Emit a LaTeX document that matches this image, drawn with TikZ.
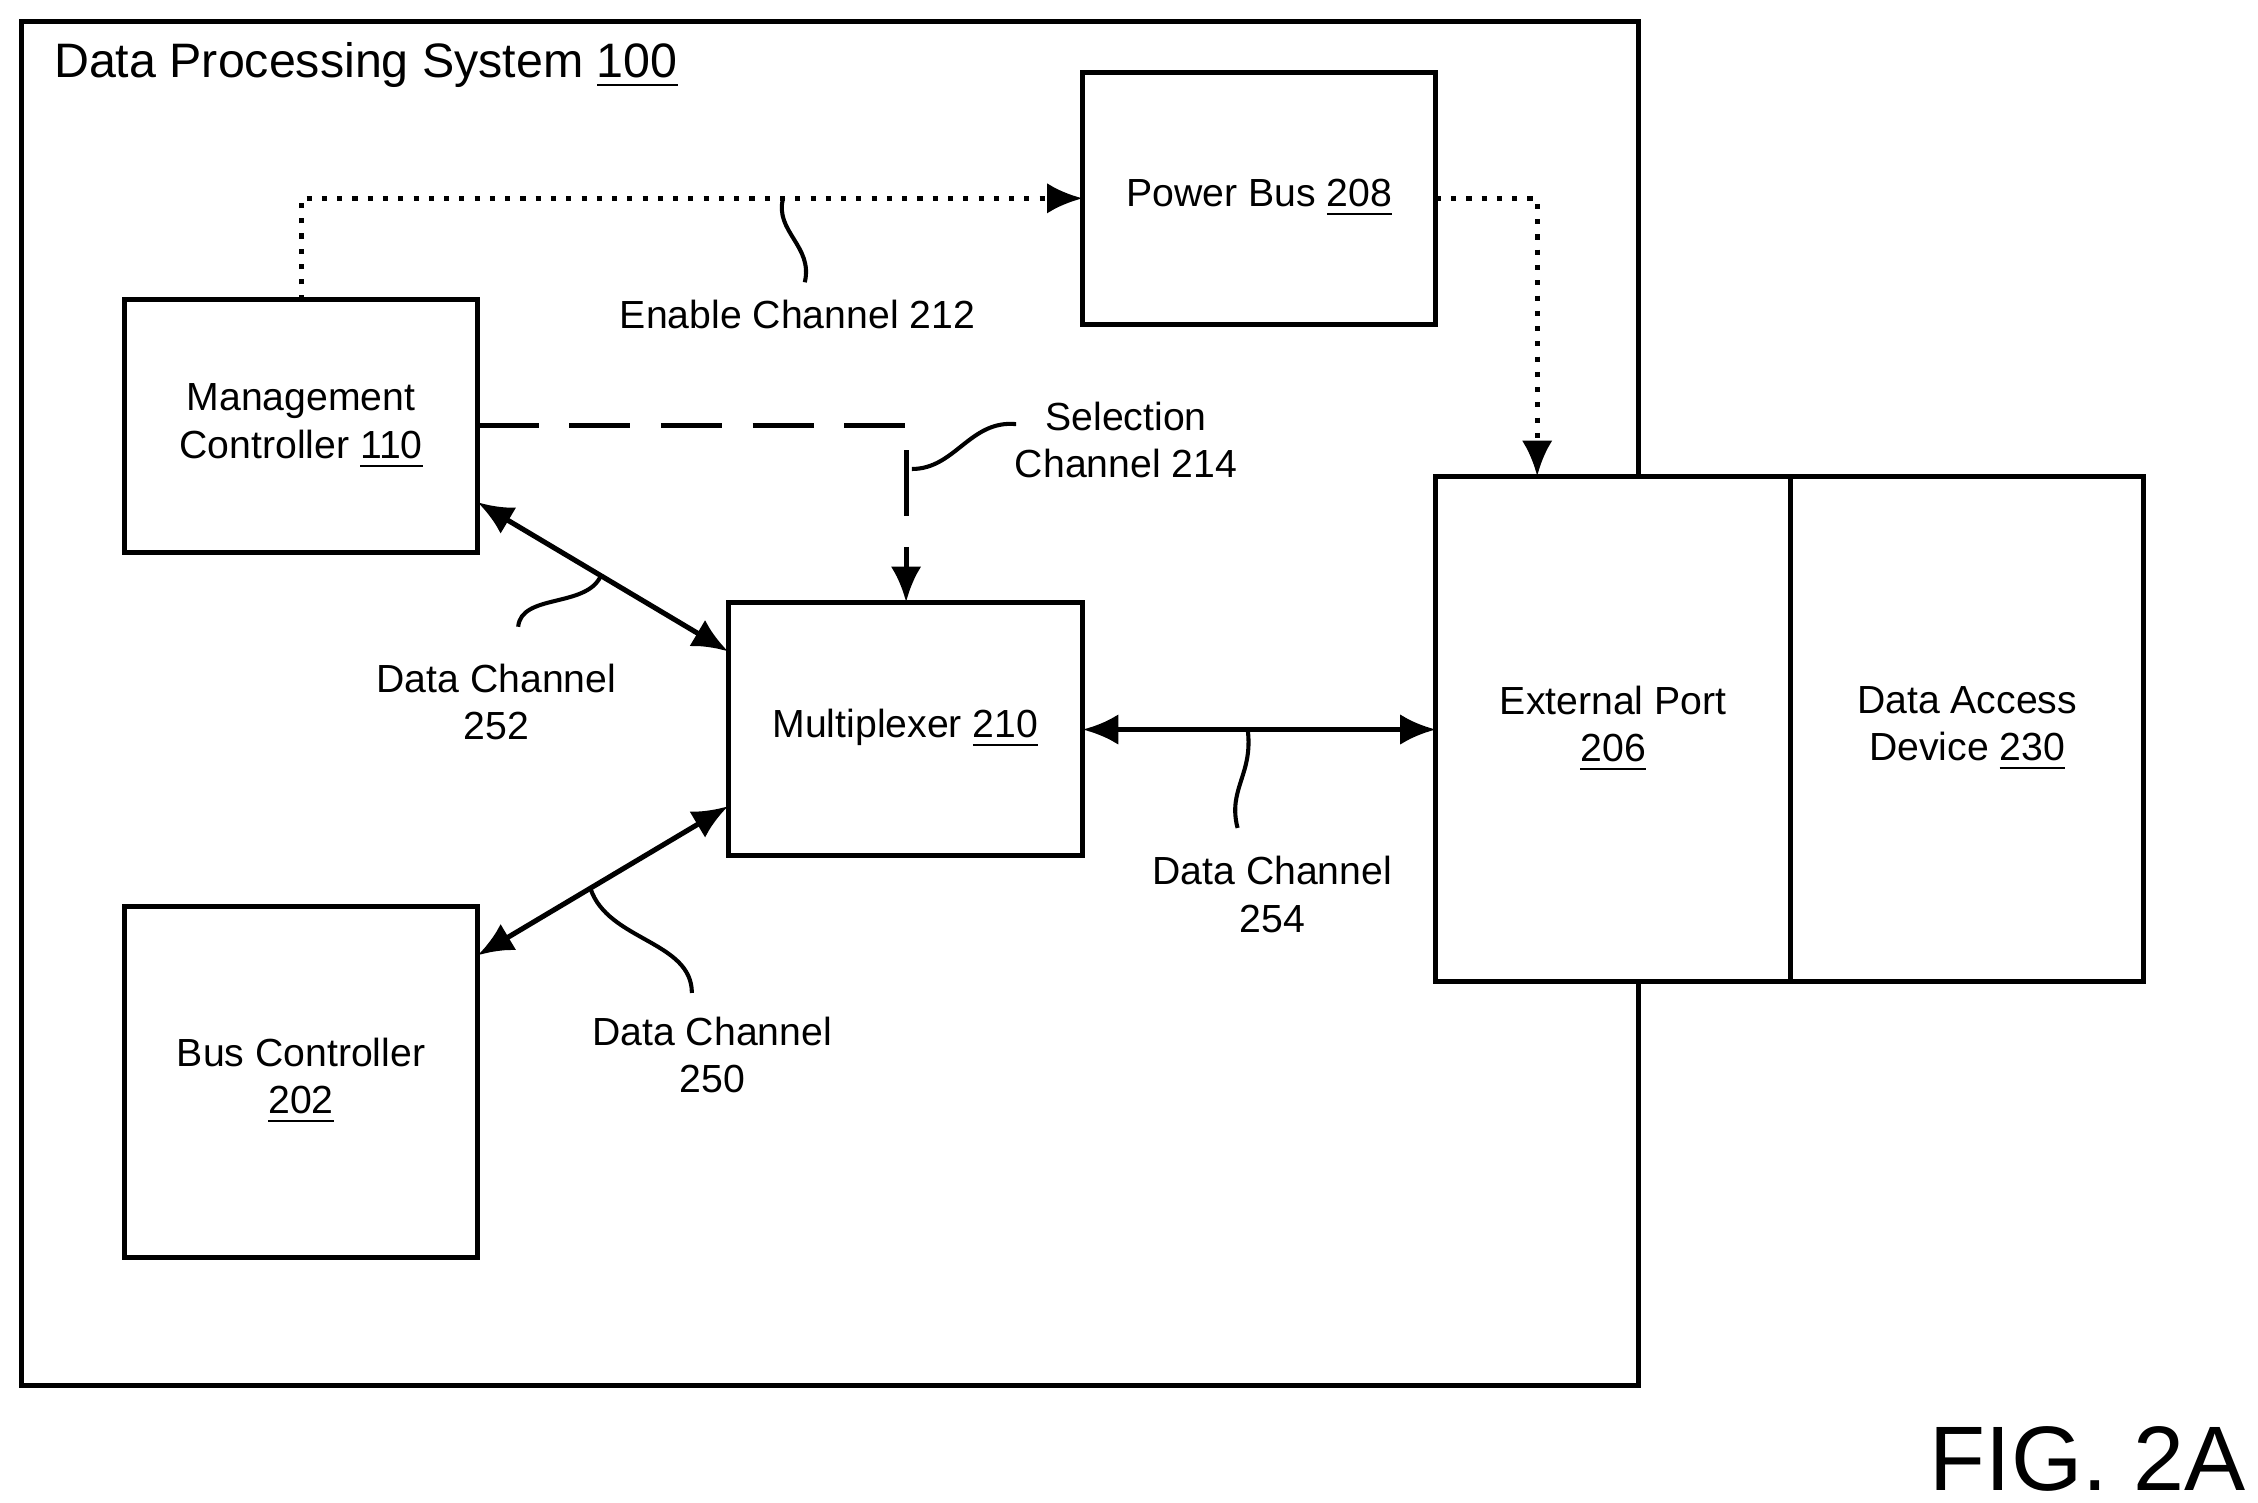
\documentclass[tikz,border=0pt]{standalone}
\usepackage{fontspec}
\setmainfont{Liberation Sans}
\usetikzlibrary{arrows.meta}
\begin{document}
\begin{tikzpicture}[x=0.01cm,y=-0.01cm,
  box/.style={draw,fill=white,line width=1pt,inner sep=0pt},
  lbl/.style={font=\fontsize{7.7}{9.3}\selectfont,align=center},
  con/.style={line width=1pt},
  tip/.style={-{Latex[length=7pt,width=6pt]}},
  tips/.style={{Latex[length=7pt,width=6pt]}-{Latex[length=7pt,width=6pt]}},
  lead/.style={line width=0.8pt}]
\useasboundingbox (0,0) rectangle (1560,1038);
\draw[box] (15,15) rectangle (1132,957);
\node[lbl,anchor=west,font=\fontsize{9.5}{11}\selectfont] (t) at (25,45) {Data Processing System \underline{100}};
\draw[box] (86,207) rectangle (330,382); \node[lbl] (mc) at (208,294.5) {Management\\Controller \underline{110}};
\draw[box] (748,50) rectangle (992,224); \node[lbl] (pb) at (870,137) {Power Bus \underline{208}};
\draw[box] (503,416) rectangle (748,591); \node[lbl] (mx) at (625.5,503.5) {Multiplexer \underline{210}};
\draw[box] (86,626) rectangle (330,869); \node[lbl] (bc) at (208,747) {Bus Controller\\\underline{202}};
\draw[box] (992,329) rectangle (1237,678); \node[lbl] (ep) at (1114.5,503.5) {External Port\\\underline{206}};
\draw[box] (1237,329) rectangle (1481,678); \node[lbl] (da) at (1359,503.5) {Data Access\\Device \underline{230}};
\coordinate (a1) at (208,207); \coordinate (a2) at (748,137);
\coordinate (b1) at (992,137); \coordinate (b2) at (1062,329);
\coordinate (s1) at (330,294); \coordinate (s2) at (626,416);
\draw[con,dotted,tip] (a1) |- (a2);
\draw[con,dotted,tip] (b1) -| (b2);
\draw[con,dash pattern=on 12pt off 6pt,tip] (s1) -| (s2);
\draw[con] (626,311) -- (626,336);
\draw[con,tips] (330,347) -- (503,450);
\draw[con,tips] (503,557) -- (330,660);
\draw[con,tips] (748,504) -- (992,504);
\draw[lead] (541,137) .. controls (535,160) and (562,170) .. (556,195);
\node[lbl] (l212) at (551,217) {Enable Channel 212};
\draw[lead] (630,324) .. controls (660,324) and (670,290) .. (702,293);
\node[lbl] (l214) at (778,304) {Selection\\Channel 214};
\draw[lead] (415,398) .. controls (405,420) and (360,410) .. (358,433);
\node[lbl] (l252) at (343,485) {Data Channel\\252};
\draw[lead] (408,614) .. controls (420,650) and (478,650) .. (478,686);
\node[lbl] (l250) at (492,729) {Data Channel\\250};
\draw[lead] (862,504) .. controls (866,535) and (848,545) .. (855,572);
\node[lbl] (l254) at (879,618) {Data Channel\\254};
\node[font=\fontsize{18}{21}\selectfont,anchor=east,inner sep=0pt] (fig) at (1552,1008) {FIG. 2A};
\end{tikzpicture}
\end{document}
